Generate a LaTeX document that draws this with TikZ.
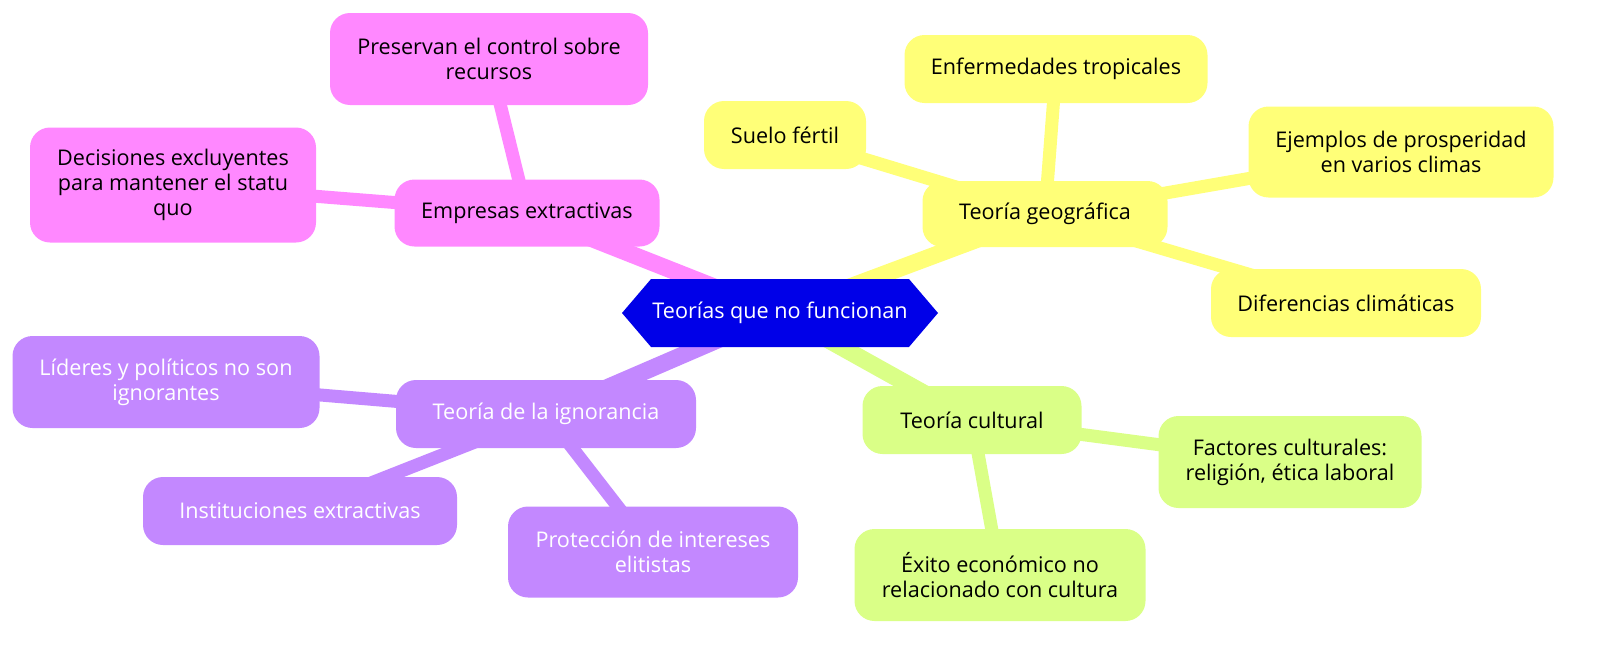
\documentclass[tikz,border=0pt]{standalone}
\usepackage{fontspec}
\setmainfont{Open Sans}
\usetikzlibrary {shapes.symbols}
\usetikzlibrary {backgrounds}

\definecolor{rootblue}{RGB}{0,0,232}
\definecolor{ideapink}{RGB}{255,136,255}
\definecolor{ideayellow}{RGB}{255,255,120}
\definecolor{ideagreen}{RGB}{218,255,135}
\definecolor{ideapurple}{RGB}{195,136,255}

\tikzset{
    idea/.style={rounded corners=10pt, align=center, inner sep=0pt,
        font=\fontsize{10.8pt}{12.5pt}\selectfont},
    pinkidea/.style={idea, fill=ideapink, text=black},
    yellowidea/.style={idea, fill=ideayellow, text=black},
    greenidea/.style={idea, fill=ideagreen, text=black},
    purpleidea/.style={idea, fill=ideapurple, text=white},
    trunk/.style={line width=8.5pt},
    twig/.style={line width=6.5pt}
}

\begin{document}
\begin{tikzpicture}[x=0.5pt,y=-0.5pt]

            \useasboundingbox (0,0) rectangle (1600,648);

            \path   (780,313) node (root) [signal, signal to=east and west, signal pointer angle=99,
                        fill=rootblue, text=white, inner sep=0pt, minimum width=158pt, minimum height=34pt,
                        font=\fontsize{10.8pt}{12.5pt}\selectfont] {Teorías que no funcionan}
                    (527,213) node (emp) [pinkidea, minimum width=132.5pt, minimum height=33.5pt] {Empresas extractivas}
                    (489,59) node (pres) [pinkidea, minimum width=159pt, minimum height=46pt] {Preservan el control sobre\\recursos}
                    (173,185) node (dec) [pinkidea, minimum width=143pt, minimum height=57.5pt] {Decisiones excluyentes\\para mantener el statu\\quo}
                    (1045,214) node (geo) [yellowidea, minimum width=122.5pt, minimum height=33pt] {Teoría geográfica}
                    (1056,69) node (enf) [yellowidea, minimum width=151.5pt, minimum height=34pt] {Enfermedades tropicales}
                    (785,135) node (suelo) [yellowidea, minimum width=81pt, minimum height=34pt] {Suelo fértil}
                    (1401,152) node (ejem) [yellowidea, minimum width=152.5pt, minimum height=45.5pt] {Ejemplos de prosperidad\\en varios climas}
                    (1346,303) node (dif) [yellowidea, minimum width=135pt, minimum height=34pt] {Diferencias climáticas}
                    (972,420) node (cult) [greenidea, minimum width=109.5pt, minimum height=34pt] {Teoría cultural}
                    (1290,462) node (fact) [greenidea, minimum width=131.5pt, minimum height=46pt] {Factores culturales:\\religión, ética laboral}
                    (1000,575) node (exito) [greenidea, minimum width=145.5pt, minimum height=46pt] {Éxito económico no\\relacionado con cultura}
                    (546,414) node (ign) [purpleidea, minimum width=150pt, minimum height=34pt] {Teoría de la ignorancia}
                    (166,382) node (lid) [purpleidea, minimum width=153.5pt, minimum height=46pt] {Líderes y políticos no son\\ignorantes}
                    (300,511) node (inst) [purpleidea, minimum width=157pt, minimum height=34pt] {Instituciones extractivas}
                    (653,552) node (prot) [purpleidea, minimum width=145pt, minimum height=45.5pt] {Protección de intereses\\elitistas};

            \begin{scope}[on background layer]
            \draw[trunk, ideapink] (root.center) -- (emp.center);
            \draw[trunk, ideayellow] (root.center) -- (geo.center);
            \draw[trunk, ideagreen] (root.center) -- (cult.center);
            \draw[trunk, ideapurple] (root.center) -- (ign.center);
            \draw[twig, ideapink] (emp.center) -- (pres.center);
            \draw[twig, ideapink] (emp.center) -- (dec.center);
            \draw[twig, ideayellow] (geo.center) -- (enf.center);
            \draw[twig, ideayellow] (geo.center) -- (suelo.center);
            \draw[twig, ideayellow] (geo.center) -- (ejem.center);
            \draw[twig, ideayellow] (geo.center) -- (dif.center);
            \draw[twig, ideagreen] (cult.center) -- (fact.center);
            \draw[twig, ideagreen] (cult.center) -- (exito.center);
            \draw[twig, ideapurple] (ign.center) -- (lid.center);
            \draw[twig, ideapurple] (ign.center) -- (inst.center);
            \draw[twig, ideapurple] (ign.center) -- (prot.center);
            \end{scope}

        \end{tikzpicture}
\end{document}
